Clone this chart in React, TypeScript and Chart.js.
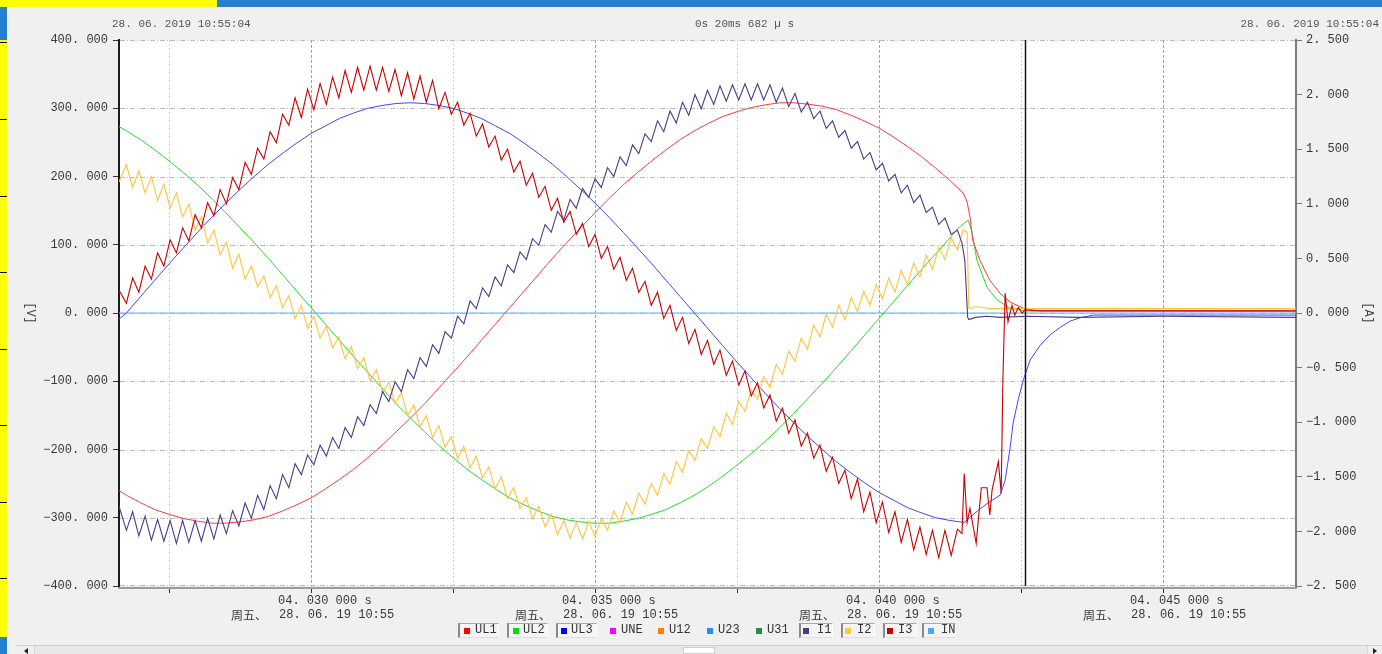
import React, { useEffect, useRef } from 'react';
import { Chart, registerables } from 'chart.js';

Chart.register(...registerables);

const MONO = '"Liberation Mono", "Noto Sans CJK SC", monospace';

// ---------- time axis, ms after 10:55:04.000 ----------
const X_MIN = 26.62;
const X_MAX = 47.34;

// ---------- voltages (V, left axis) ----------
const vTimes = [
  26.62, 26.75, 27.0, 27.25, 27.5, 27.75, 28.0, 28.25, 28.5, 28.75, 29.0,
  29.25, 29.5, 29.75, 30.0, 30.25, 30.5, 30.75, 31.0, 31.25, 31.5,
  31.75, 32.0, 32.25, 32.5, 32.75, 33.0, 33.25, 33.5, 33.75, 34.0,
  34.25, 34.5, 34.75, 35.0, 35.25, 35.5, 35.75, 36.0, 36.25, 36.5,
  36.75, 37.0, 37.25, 37.5, 37.75, 38.0, 38.25, 38.5, 38.75, 39.0,
  39.25, 39.5, 39.75, 40.0, 40.25, 40.5, 40.75, 41.0, 41.25,
];
const ul1 = [
  -260, -267, -278, -288, -295, -301, -305, -308, -308, -306, -303,
  -298, -290, -281, -271, -258, -244, -229, -212, -194, -174,
  -154, -133, -110, -87, -64, -40, -16, 8, 32, 56,
  80, 103, 125, 147, 168, 188, 206, 223, 239, 254,
  267, 278, 288, 295, 301, 305, 308, 308, 306, 303,
  298, 290, 281, 271, 258, 244, 229, 212, 194,
];
const ul2 = [
  273, 267, 254, 239, 223, 206, 188, 168, 147, 125, 103,
  80, 56, 32, 8, -16, -40, -64, -87, -110, -133,
  -154, -174, -194, -212, -229, -244, -258, -271, -281, -290,
  -298, -303, -306, -308, -308, -305, -301, -295, -288, -278,
  -267, -254, -239, -223, -206, -188, -168, -147, -125, -103,
  -80, -56, -32, -8, 16, 40, 64, 87, 110,
];
const ul3 = [
  -9, 0, 24, 48, 72, 95, 118, 140, 161, 181, 200,
  218, 234, 249, 263, 274, 285, 293, 300, 304, 307,
  308, 307, 304, 300, 293, 285, 274, 263, 249, 234,
  218, 200, 181, 161, 140, 118, 95, 72, 48, 24,
  0, -24, -48, -72, -95, -118, -140, -161, -181, -200,
  -218, -234, -249, -263, -274, -285, -293, -300, -304,
];
const ul1TailT = [41.48, 41.55, 41.6, 41.65, 41.77, 41.95, 42.13, 42.31, 42.54, 42.84, 47.34];
const ul1Tail = [176, 163, 141, 107, 78, 48, 29, 16, 7, 3, 3];
const ul2TailT = [41.4, 41.57, 41.64, 41.72, 41.9, 42.08, 42.31, 42.6, 47.34];
const ul2Tail = [125, 136, 118, 78, 38, 19, 7, 3, 2];
const ul3TailT = [41.5, 41.69, 41.92, 42.13, 42.22, 42.31, 42.36, 42.45, 42.54, 42.66, 42.84, 43.01, 43.19, 43.36, 43.54, 43.77, 47.34];
const ul3Tail = [-307, -293, -278, -267, -245, -196, -161, -127, -98, -69, -47, -32, -21, -12, -7, -3, -3];

// ---------- currents (A, right axis) ----------
const iTimes = [
  26.62, 26.75, 26.86, 26.97, 27.08, 27.19, 27.3, 27.41, 27.52, 27.63,
  27.74, 27.85, 27.96, 28.07, 28.18, 28.29, 28.4, 28.51, 28.62, 28.73,
  28.84, 28.95, 29.06, 29.17, 29.28, 29.39, 29.5, 29.61, 29.72, 29.83,
  29.94, 30.05, 30.16, 30.27, 30.38, 30.49, 30.6, 30.71, 30.82, 30.93,
  31.04, 31.15, 31.26, 31.37, 31.48, 31.59, 31.7, 31.81, 31.92, 32.03,
  32.14, 32.25, 32.36, 32.47, 32.58, 32.69, 32.8, 32.91, 33.02, 33.13,
  33.24, 33.35, 33.46, 33.57, 33.68, 33.79, 33.9, 34.01, 34.12, 34.23,
  34.34, 34.45, 34.56, 34.67, 34.78, 34.89, 35.0, 35.11, 35.22, 35.33,
  35.44, 35.55, 35.66, 35.77, 35.88, 35.99, 36.1, 36.21, 36.32, 36.43,
  36.54, 36.65, 36.76, 36.87, 36.98, 37.09, 37.2, 37.31, 37.42, 37.53,
  37.64, 37.75, 37.86, 37.97, 38.08, 38.19, 38.3, 38.41, 38.52, 38.63,
  38.74, 38.85, 38.96, 39.07, 39.18, 39.29, 39.4, 39.51, 39.62, 39.73,
  39.84, 39.95, 40.06, 40.17, 40.28, 40.39, 40.5, 40.61, 40.72, 40.83,
  40.94, 41.05, 41.16, 41.27, 41.38,
];
const i1 = [
  -1.77, -1.99, -1.82, -2.04, -1.86, -2.08, -1.89, -2.09, -1.9, -2.11,
  -1.9, -2.1, -1.9, -2.09, -1.88, -2.07, -1.85, -2.02, -1.81, -1.95,
  -1.74, -1.88, -1.67, -1.8, -1.58, -1.7, -1.48, -1.6, -1.38, -1.48,
  -1.3, -1.39, -1.21, -1.31, -1.14, -1.24, -1.05, -1.14, -0.95, -1.03,
  -0.84, -0.92, -0.72, -0.81, -0.63, -0.72, -0.52, -0.6, -0.41, -0.49,
  -0.29, -0.37, -0.17, -0.23, -0.03, -0.1, 0.11, 0.04, 0.23, 0.15,
  0.33, 0.25, 0.44, 0.37, 0.56, 0.49, 0.68, 0.62, 0.81, 0.74,
  0.93, 0.85, 1.04, 0.96, 1.14, 1.06, 1.23, 1.15, 1.33, 1.25,
  1.43, 1.35, 1.54, 1.46, 1.64, 1.57, 1.76, 1.66, 1.85, 1.74,
  1.93, 1.81, 2.0, 1.87, 2.04, 1.91, 2.08, 1.94, 2.09, 1.95,
  2.1, 1.95, 2.1, 1.95, 2.09, 1.93, 2.06, 1.89, 2.01, 1.84,
  1.93, 1.78, 1.85, 1.69, 1.76, 1.61, 1.67, 1.51, 1.57, 1.41,
  1.47, 1.31, 1.37, 1.21, 1.27, 1.1, 1.17, 1.01, 1.08, 0.92,
  0.97, 0.81, 0.87, 0.72, 0.76,
];
const i2 = [
  1.2, 1.36, 1.15, 1.3, 1.1, 1.25, 1.03, 1.18, 0.96, 1.1,
  0.88, 1.0, 0.76, 0.88, 0.64, 0.76, 0.53, 0.65, 0.41, 0.54,
  0.31, 0.43, 0.24, 0.34, 0.14, 0.25, 0.05, 0.16, -0.05, 0.07,
  -0.14, -0.03, -0.23, -0.12, -0.32, -0.22, -0.42, -0.31, -0.51, -0.41,
  -0.62, -0.52, -0.73, -0.63, -0.83, -0.73, -0.94, -0.84, -1.04, -0.94,
  -1.14, -1.03, -1.23, -1.13, -1.33, -1.22, -1.42, -1.31, -1.51, -1.41,
  -1.61, -1.5, -1.7, -1.6, -1.79, -1.69, -1.88, -1.77, -1.96, -1.84,
  -2.03, -1.9, -2.06, -1.92, -2.07, -1.91, -2.05, -1.88, -1.99, -1.81,
  -1.92, -1.73, -1.84, -1.65, -1.75, -1.56, -1.67, -1.47, -1.57, -1.36,
  -1.46, -1.26, -1.35, -1.15, -1.24, -1.04, -1.13, -0.92, -1.02, -0.81,
  -0.9, -0.7, -0.79, -0.58, -0.68, -0.47, -0.56, -0.35, -0.44, -0.23,
  -0.33, -0.11, -0.22, -0.01, -0.13, 0.07, -0.06, 0.14, 0.01, 0.2,
  0.07, 0.26, 0.13, 0.32, 0.19, 0.39, 0.26, 0.46, 0.33, 0.53,
  0.4, 0.6, 0.49, 0.69, 0.58,
];
const i3 = [
  0.21, 0.09, 0.32, 0.19, 0.43, 0.31, 0.55, 0.43, 0.67, 0.55,
  0.78, 0.66, 0.9, 0.78, 1.01, 0.89, 1.13, 1.0, 1.24, 1.13,
  1.38, 1.27, 1.51, 1.41, 1.66, 1.56, 1.82, 1.72, 1.97, 1.79,
  2.05, 1.86, 2.1, 1.91, 2.16, 1.97, 2.22, 2.02, 2.25, 2.04,
  2.26, 2.04, 2.25, 2.03, 2.23, 1.99, 2.2, 1.96, 2.17, 1.93,
  2.13, 1.87, 2.02, 1.82, 1.93, 1.72, 1.83, 1.62, 1.73, 1.52,
  1.62, 1.4, 1.5, 1.29, 1.39, 1.17, 1.28, 1.06, 1.16, 0.94,
  1.05, 0.83, 0.93, 0.72, 0.82, 0.61, 0.72, 0.5, 0.61, 0.4,
  0.51, 0.3, 0.41, 0.19, 0.29, 0.07, 0.19, -0.05, 0.07, -0.16,
  -0.04, -0.28, -0.15, -0.38, -0.25, -0.47, -0.34, -0.57, -0.44, -0.66,
  -0.53, -0.76, -0.64, -0.87, -0.75, -0.99, -0.87, -1.1, -0.98, -1.22,
  -1.1, -1.33, -1.21, -1.45, -1.32, -1.56, -1.44, -1.7, -1.52, -1.82,
  -1.64, -1.92, -1.73, -2.01, -1.82, -2.1, -1.89, -2.17, -1.96, -2.21,
  -1.99, -2.24, -1.99, -2.22, -1.98,
];
const i1TailT = [41.46, 41.51, 41.56, 41.58, 41.7, 41.9, 42.13, 42.6, 43.5, 45.0, 47.34];
const i1Tail = [0.64, 0.48, -0.04, -0.06, -0.04, -0.03, -0.04, -0.03, -0.04, -0.03, -0.04];
const i2TailT = [41.48, 41.55, 41.58, 41.62, 41.7, 41.95, 42.5, 47.34];
const i2Tail = [0.76, 0.74, 0.05, 0.04, 0.06, 0.04, 0.04, 0.04];
const i3TailT = [41.46, 41.5, 41.55, 41.6, 41.71, 41.8, 41.9, 41.95, 41.99, 42.1, 42.15, 42.18, 42.22, 42.27, 42.34, 42.39, 42.45, 42.52, 42.57, 42.7, 47.34];
const i3Tail = [-2.02, -1.47, -1.92, -1.79, -2.11, -1.6, -1.6, -1.85, -1.62, -1.36, -1.65, -0.61, 0.18, -0.08, 0.07, -0.02, 0.05, 0.0, 0.03, 0.02, 0.02];
const inTimes = [26.62, 47.34];
const inVals = [0, 0];

// ---------- axes / labels ----------
const vGrid = [400, 300, 200, 100, 0, -100, -200, -300, -400];
const xMajor = [30, 35, 40, 45];
const xMinor = [27.5, 32.5, 37.5, 42.5];
const xTickLabels = ['04. 030 000 s', '04. 035 000 s', '04. 040 000 s', '04. 045 000 s'];
const xTickDay = '周五、';
const xTickDate = '28. 06. 19 10:55';
const cursorT = 42.57;

const headerLeft = '28. 06. 2019 10:55:04';
const headerMid = '0s 20ms 682 µ s';
const headerRight = '28. 06. 2019 10:55:04';

const legendNames = ['UL1', 'UL2', 'UL3', 'UNE', 'U12', 'U23', 'U31', 'I1', 'I2', 'I3', 'IN'];
const legendColors = ['#ff0000', '#00e000', '#0000ff', '#ff00ff', '#ff8000', '#1e8fff', '#2e8b45', '#4b3a8a', '#ffc83c', '#c80000', '#4da6ff'];
const legendActive = [true, true, true, false, false, false, false, true, true, true, true];

// layout of legend (pixels)
const legendLayout = [
  { bx: 458, bw: 41, sq: 464, tx: 475 },
  { bx: 507, bw: 41, sq: 513, tx: 523 },
  { bx: 556, bw: 41, sq: 561, tx: 571 },
  { sq: 610, tx: 621 },
  { sq: 658, tx: 669 },
  { sq: 707, tx: 718 },
  { sq: 756, tx: 767 },
  { bx: 799, bw: 34, sq: 803, tx: 817 },
  { bx: 841, bw: 34, sq: 845, tx: 857 },
  { bx: 883, bw: 34, sq: 887, tx: 898 },
  { bx: 922, bw: 34, sq: 928, tx: 941 },
];

const fmt = (v: number) => {
  const s = Math.abs(v).toFixed(3).replace('.', '. ');
  return (v < -1e-9 ? '\u2212' : '') + s;
};

const pts = (t: number[], v: number[]) => v.map((y, i) => ({ x: t[i], y }));

const decorPlugin = {
  id: 'decor',
  beforeDraw(chart: any) {
    const { ctx, chartArea: a } = chart;
    ctx.save();
    ctx.fillStyle = '#ffffff';
    ctx.fillRect(a.left, a.top, a.right - a.left, a.bottom - a.top);
    ctx.restore();
  },
  beforeDatasetsDraw(chart: any) {
    const { ctx, chartArea: a, scales } = chart;
    const xs = scales.x;
    const ys = scales.y;
    ctx.save();
    ctx.lineWidth = 1;
    ctx.strokeStyle = '#bcbcbc';
    ctx.setLineDash([5, 2, 1, 2]);
    for (const v of vGrid) {
      let y = Math.round(ys.getPixelForValue(v)) + 0.5;
      if (y > a.bottom) y = a.bottom - 0.5;
      ctx.beginPath();
      ctx.moveTo(a.left + 1, y);
      ctx.lineTo(a.right - 1, y);
      ctx.stroke();
    }
    ctx.strokeStyle = '#d2d2d2';
    ctx.setLineDash([2, 2]);
    for (const t of xMinor) {
      const x = Math.round(xs.getPixelForValue(t)) + 0.5;
      ctx.beginPath();
      ctx.moveTo(x, a.top);
      ctx.lineTo(x, a.bottom);
      ctx.stroke();
    }
    ctx.strokeStyle = '#a4a4a4';
    ctx.setLineDash([3, 2]);
    for (const t of xMajor) {
      const x = Math.round(xs.getPixelForValue(t)) + 0.5;
      ctx.beginPath();
      ctx.moveTo(x, a.top);
      ctx.lineTo(x, a.bottom);
      ctx.stroke();
    }
    ctx.restore();
  },
  afterDatasetsDraw(chart: any) {
    const { ctx, chartArea: a, scales } = chart;
    const xs = scales.x;
    ctx.save();
    // cursor
    const cx = Math.round(xs.getPixelForValue(cursorT)) + 0.5;
    ctx.strokeStyle = '#151515';
    ctx.lineWidth = 1.5;
    ctx.beginPath();
    ctx.moveTo(cx, a.top);
    ctx.lineTo(cx, a.bottom);
    ctx.stroke();
    // bottom axis bar
    ctx.fillStyle = '#9c9c9c';
    ctx.fillRect(a.left - 1, a.bottom + 1, a.right - a.left + 2, 2);
    // ticks
    ctx.strokeStyle = '#333';
    ctx.lineWidth = 1;
    for (const t of [...xMinor, ...xMajor]) {
      const x = Math.round(xs.getPixelForValue(t)) + 0.5;
      ctx.beginPath();
      ctx.moveTo(x, a.bottom + 3);
      ctx.lineTo(x, a.bottom + 7);
      ctx.stroke();
    }
    // labels
    ctx.fillStyle = '#383838';
    ctx.textBaseline = 'middle';
    ctx.textAlign = 'left';
    ctx.font = '12px ' + MONO;
    xMajor.forEach((t, i) => {
      const x = xs.getPixelForValue(t);
      ctx.fillText(xTickLabels[i], x - 33, a.bottom + 15);
      ctx.fillText(xTickDate, x - 32, a.bottom + 29);
      ctx.font = '12px "Noto Sans CJK SC", sans-serif';
      ctx.fillText(xTickDay, x - 80, a.bottom + 29);
      ctx.font = '12px ' + MONO;
    });
    ctx.restore();
  },
};

export default function App() {
  const ref = useRef<HTMLCanvasElement | null>(null);

  useEffect(() => {
    const canvas = ref.current;
    if (!canvas) return;
    const line = (label: string, data: any[], color: string, axis: string, width: number) => ({
      label,
      data,
      borderColor: color,
      backgroundColor: color,
      borderWidth: width,
      pointRadius: 0,
      tension: 0,
      fill: false,
      yAxisID: axis,
    });
    const chart = new Chart(canvas, {
      type: 'line',
      data: {
        datasets: [
          line('I3', [...pts(iTimes, i3), ...pts(i3TailT, i3Tail)], '#c80000', 'y1', 1.1),
          line('I1', [...pts(iTimes, i1), ...pts(i1TailT, i1Tail)], '#4a3b88', 'y1', 1.1),
          line('I2', [...pts(iTimes, i2), ...pts(i2TailT, i2Tail)], '#ffc43a', 'y1', 1.1),
          line('UL3', [...pts(vTimes, ul3), ...pts(ul3TailT, ul3Tail)], '#4444ff', 'y', 1),
          line('UL1', [...pts(vTimes, ul1), ...pts(ul1TailT, ul1Tail)], '#ff3a3a', 'y', 1),
          line('UL2', [...pts(vTimes, ul2), ...pts(ul2TailT, ul2Tail)], '#2ada2a', 'y', 1),
          line('IN', pts(inTimes, inVals), '#62b0ff', 'y1', 1),
        ],
      },
      options: {
        animation: false,
        responsive: false,
        devicePixelRatio: 1,
        events: [],
        layout: { padding: { left: 0, right: 0, top: 40, bottom: 68 } },
        plugins: { legend: { display: false }, tooltip: { enabled: false } },
        scales: {
          x: { type: 'linear', min: X_MIN, max: X_MAX, display: false },
          y: {
            position: 'left',
            min: -400,
            max: 400,
            afterFit: (s: any) => { s.width = 119; },
            ticks: {
              stepSize: 100,
              autoSkip: false,
              padding: 5,
              color: '#383838',
              font: { family: MONO, size: 12 },
              callback: (v: any) => fmt(Number(v)),
            },
            grid: { drawOnChartArea: false, drawTicks: true, tickLength: 6, tickColor: '#333', color: '#333' },
            border: { display: true, color: '#1c1c1c', width: 2 },
          },
          y1: {
            position: 'right',
            min: -2.5,
            max: 2.5,
            afterFit: (s: any) => { s.width = 86; },
            ticks: {
              stepSize: 0.5,
              autoSkip: false,
              padding: 4,
              color: '#383838',
              font: { family: MONO, size: 12 },
              callback: (v: any) => fmt(Number(v)),
            },
            grid: { drawOnChartArea: false, drawTicks: true, tickLength: 6, tickColor: '#777', color: '#777' },
            border: { display: true, color: '#7a7a7a', width: 2 },
          },
        },
      },
      plugins: [decorPlugin],
    } as any);
    return () => chart.destroy();
  }, []);

  const abs = (s: any) => ({ position: 'absolute' as const, ...s });
  const marks = [42, 119, 196, 272, 349, 425, 502, 578];

  return (
    <div style={abs({ left: 0, top: 0, width: 1382, height: 654, background: '#f0f0f0', overflow: 'hidden', fontFamily: MONO })}>
      <div style={abs({ left: 0, top: 0, width: 217, height: 7, background: '#ffff00' })} />
      <div style={abs({ left: 217, top: 0, width: 1165, height: 7, background: '#2680d2' })} />
      <div style={abs({ left: 0, top: 7, width: 7, height: 33, background: '#2680d2' })} />
      <div style={abs({ left: 0, top: 40, width: 7, height: 597, background: '#ffff00' })} />
      <div style={abs({ left: 0, top: 637, width: 7, height: 17, background: '#2680d2' })} />
      {marks.map((y) => (
        <div key={y} style={abs({ left: 0, top: y, width: 7, height: 1, background: '#111' })} />
      ))}

      <canvas ref={ref} width={1382} height={654} style={abs({ left: 0, top: 0 })} />

      <div style={abs({ left: 112, top: 18, height: 13, lineHeight: '13px', fontSize: 11, color: '#555', whiteSpace: 'pre' })}>{headerLeft}</div>
      <div style={abs({ left: 695, top: 18, height: 13, lineHeight: '13px', fontSize: 11, color: '#555', whiteSpace: 'pre' })}>{headerMid}</div>
      <div style={abs({ right: 3, top: 18, height: 13, lineHeight: '13px', fontSize: 11, color: '#555', whiteSpace: 'pre' })}>{headerRight}</div>

      <div style={abs({ left: 18, top: 306, width: 24, height: 14, lineHeight: '14px', fontSize: 12, color: '#444', textAlign: 'center', transform: 'rotate(90deg)' })}>[V]</div>
      <div style={abs({ left: 1356, top: 306, width: 24, height: 14, lineHeight: '14px', fontSize: 12, color: '#444', textAlign: 'center', transform: 'rotate(90deg)' })}>[A]</div>

      {legendNames.map((n, i) => {
        const L: any = legendLayout[i];
        return (
          <React.Fragment key={n}>
            {legendActive[i] && (
              <div style={abs({ left: L.bx, top: 623, width: L.bw, height: 15, boxSizing: 'border-box', borderLeft: '2px solid #8a8a8a', borderTop: '1px solid #a8a8a8', borderRight: '1px solid #fcfcfc', borderBottom: '1px solid #dedede', background: '#f4f4f4' })} />
            )}
            <div style={abs({ left: L.sq, top: 628, width: 6, height: 6, background: legendColors[i] })} />
            <div style={abs({ left: L.tx, top: 623, height: 15, lineHeight: '15px', fontSize: 12, color: '#333', whiteSpace: 'pre' })}>{n}</div>
          </React.Fragment>
        );
      })}

      <div style={abs({ left: 17, top: 645, width: 1365, height: 9, background: '#e8e8e8', borderTop: '1px solid #d0d0d0', boxSizing: 'border-box' })} />
      <div style={abs({ left: 17, top: 646, width: 18, height: 8, background: '#f0f0f0', borderRight: '1px solid #d6d6d6', boxSizing: 'border-box' })} />
      <div style={abs({ left: 24, top: 648, width: 0, height: 0, borderTop: '3px solid transparent', borderBottom: '3px solid transparent', borderRight: '4px solid #222' })} />
      <div style={abs({ left: 1367, top: 646, width: 15, height: 8, background: '#f0f0f0', borderLeft: '1px solid #d6d6d6', boxSizing: 'border-box' })} />
      <div style={abs({ left: 1373, top: 648, width: 0, height: 0, borderTop: '3px solid transparent', borderBottom: '3px solid transparent', borderLeft: '4px solid #222' })} />
      <div style={abs({ left: 683, top: 647, width: 32, height: 7, background: '#ffffff', border: '1px solid #d0d0d0', boxSizing: 'border-box' })} />
    </div>
  );
}
